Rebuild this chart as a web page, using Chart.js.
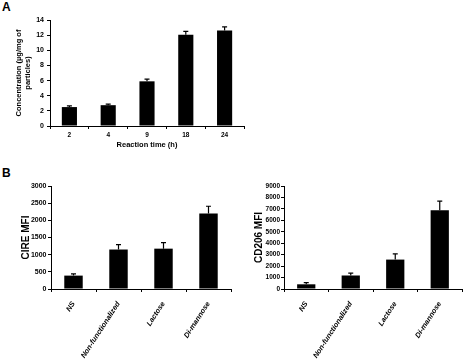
<!DOCTYPE html>
<html>
<head>
<meta charset="utf-8">
<script src="https://cdn.jsdelivr.net/npm/chart.js@4.4.1/dist/chart.umd.min.js"></script>
<style>
  body { margin: 0; background: #fff; width: 464px; height: 362px; position: relative; overflow: hidden; }
  canvas { position: absolute; }
  .panel { position: absolute; font: bold 12px Arial, 'Liberation Sans', sans-serif; color: #000; }
</style>
</head>
<body>
<div class="panel" style="left:2px; top:0px;">A</div>
<div class="panel" style="left:2px; top:166px;">B</div>
<canvas id="chartA" width="250" height="160" style="left:0; top:0;"></canvas>
<canvas id="chartB1" width="240" height="192" style="left:0; top:170px;"></canvas>
<canvas id="chartB2" width="224" height="192" style="left:240px; top:170px;"></canvas>
<script>
// panel A: concentration over reaction time
const timeLabels = ['2', '4', '9', '18', '24'];
const concValues = [2.5, 2.75, 5.9, 12.05, 12.6];
const concErrors = [0.15, 0.15, 0.3, 0.45, 0.5];

// panel B: MFI per particle type
const groupLabels = ['NS', 'Non-functionalized', 'Lactose', 'Di-mannose'];
const cireValues = [390, 1150, 1175, 2200];
const cireErrors = [50, 140, 175, 210];
const cd206Values = [410, 1180, 2570, 6890];
const cd206Errors = [140, 200, 500, 790];

const FONT = "Arial, 'Liberation Sans', sans-serif";
const NARROW = "'Liberation Sans Narrow', 'Arial Narrow', Arial, sans-serif";

// upward-only error bars with a small cap
const errorBars = {
  id: 'errorBars',
  afterDatasetsDraw(chart, args, opts) {
    if (!opts.errors) return;
    const meta = chart.getDatasetMeta(0);
    const yScale = chart.scales.y;
    const vals = chart.data.datasets[0].data;
    const ctx = chart.ctx;
    ctx.save();
    ctx.strokeStyle = '#000';
    ctx.lineWidth = 1.2;
    meta.data.forEach((bar, i) => {
      const top = yScale.getPixelForValue(vals[i] + opts.errors[i]);
      ctx.beginPath();
      ctx.moveTo(bar.x, bar.y);
      ctx.lineTo(bar.x, top);
      ctx.moveTo(bar.x - opts.cap, top);
      ctx.lineTo(bar.x + opts.cap, top);
      ctx.stroke();
    });
    ctx.restore();
  }
};

function axisGrid() {
  return { display: true, drawOnChartArea: false, drawTicks: true, tickLength: 3, color: '#000', lineWidth: 1 };
}

function makeBarChart(id, cfg) {
  const canvas = document.getElementById(id);
  return new Chart(canvas, {
    type: 'bar',
    data: {
      labels: cfg.labels,
      datasets: [{
        data: cfg.values,
        backgroundColor: '#000',
        borderWidth: 0,
        barPercentage: cfg.barPct,
        categoryPercentage: 1
      }]
    },
    plugins: [errorBars],
    options: {
      responsive: false,
      animation: false,
      layout: { padding: { left: 0, top: cfg.top, right: cfg.right, bottom: 0 } },
      plugins: {
        legend: { display: false },
        tooltip: { enabled: false },
        errorBars: { errors: cfg.errors, cap: 2.5 }
      },
      scales: {
        x: {
          grid: axisGrid(),
          border: { color: '#000', width: 1 },
          ticks: {
            color: '#000',
            font: cfg.xFont,
            padding: cfg.xPad,
            autoSkip: false,
            maxRotation: cfg.rot,
            minRotation: cfg.rot
          },
          title: cfg.xTitle,
          afterFit(s) { s.height = cfg.xHeight; }
        },
        y: {
          min: 0,
          max: cfg.yMax,
          grid: axisGrid(),
          border: { color: '#000', width: 1 },
          ticks: {
            color: '#000', font: cfg.yFont, stepSize: cfg.step, padding: cfg.yPad,
            callback: v => String(v)  // no thousands separator
          },
          title: cfg.yTitle,
          afterFit(s) { s.width = cfg.yWidth; }
        }
      }
    }
  });
}

makeBarChart('chartA', {
  labels: timeLabels, values: concValues, errors: concErrors,
  barPct: 0.39, top: 20, right: 6, yMax: 14, step: 2,
  yWidth: 50, xHeight: 34, rot: 0, xPad: 2, yPad: 3,
  xFont: { family: FONT, size: 6.5, weight: 'bold' },
  yFont: { family: FONT, size: 7, weight: 'bold' },
  xTitle: { display: true, text: 'Reaction time (h)', color: '#000',
    font: { family: FONT, size: 7.5, weight: 'bold' }, padding: { top: 0, bottom: 11 } },
  yTitle: { display: true, text: ['Concentration (µg/mg of', 'particles)'], color: '#000',
    font: { family: FONT, size: 7.5, weight: 'bold' }, padding: { top: 14.5, bottom: 0 } }
});

makeBarChart('chartB1', {
  labels: groupLabels, values: cireValues, errors: cireErrors,
  barPct: 0.41, top: 16, right: 9, yMax: 3000, step: 500,
  yWidth: 51, xHeight: 73, rot: 57, xPad: 8, yPad: 1.5,
  xFont: { family: FONT, size: 7.3, weight: 'bold', style: 'italic' },
  yFont: { family: NARROW, size: 7, weight: 'bold' },
  xTitle: { display: false },
  yTitle: { display: true, text: 'CIRE MFI', color: '#000',
    font: { family: FONT, size: 10, weight: 'bold' }, padding: { top: 20, bottom: 0 } }
});

makeBarChart('chartB2', {
  labels: groupLabels, values: cd206Values, errors: cd206Errors,
  barPct: 0.41, top: 16, right: 2, yMax: 9000, step: 1000,
  yWidth: 44, xHeight: 73, rot: 57, xPad: 8, yPad: 1,
  xFont: { family: FONT, size: 7.3, weight: 'bold', style: 'italic' },
  yFont: { family: NARROW, size: 6.5, weight: 'bold' },
  xTitle: { display: false },
  yTitle: { display: true, text: 'CD206 MFI', color: '#000',
    font: { family: FONT, size: 10, weight: 'bold' }, padding: { top: 13.5, bottom: 0 } }
});
</script>
</body>
</html>
